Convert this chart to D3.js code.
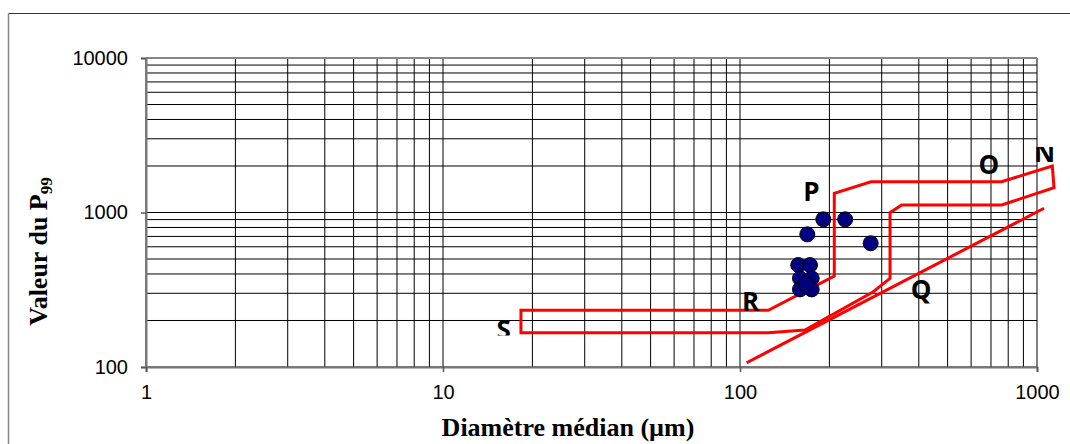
<!DOCTYPE html>
<html>
<head>
<meta charset="utf-8">
<script src="https://cdn.jsdelivr.net/npm/d3@7"></script>
<style>
  html, body { margin: 0; padding: 0; background: #fff; }
  svg { display: block; }
</style>
</head>
<body>
<svg id="chart" width="1070" height="444"></svg>
<script>
// Axis tick values (log scales)
const xTickValues = [1, 10, 100, 1000];
const yTickValues = [100, 1000, 10000];

// Outer envelope S-R-P-O-N-Q (median diameter in µm, P99 value)
const envelopeDiam = [18.3, 124.5, 207.7, 207.7, 276, 760, 1126, 1141, 760, 350, 320, 320, 281, 165.5, 124.5, 18.3];
const envelopeP99  = [233, 233, 388, 1331, 1582, 1582, 2000, 1447, 1118, 1118, 998, 375, 307, 173.5, 166.7, 166.7];

// Straight reference line
const lineDiam = [105.3, 1056];
const lineP99  = [106.6, 1065];

// Measured samples
const sampleDiam = [190.8, 226, 168.5, 275.4, 157.1, 172, 159.2, 174.3, 159.2, 174.3, 166.8];
const sampleP99  = [903, 903, 722, 632, 457, 457, 375, 375, 318, 318, 344];

// Zone letters and where they sit (diameter, P99 at baseline)
const zoneNames = ["S", "R", "P", "O", "N", "Q"];
const zoneDiam  = [16.0, 108.5, 174, 689, 1060, 406.8];
const zoneP99   = [151.8, 232.1, 1187, 1775, 2123, 275.5];

const svg = d3.select("#chart");

const x = d3.scaleLog().domain([1, 1000]).range([146, 1037]);
const y = d3.scaleLog().domain([100, 10000]).range([367, 58]);

// outer frame
svg.append("line").attr("x1", 8.5).attr("x2", 1070).attr("y1", 13.5).attr("y2", 13.5)
  .attr("stroke", "#333").attr("stroke-width", 1);
svg.append("line").attr("x1", 8.5).attr("x2", 8.5).attr("y1", 13.5).attr("y2", 444)
  .attr("stroke", "#888").attr("stroke-width", 1.5);

// grid: every 1..9 step of each decade
const grid = svg.append("g");
grid.selectAll("line.vx").data(x.ticks()).join("line")
  .attr("class", "vx")
  .attr("x1", d => x(d)).attr("x2", d => x(d))
  .attr("y1", y(10000)).attr("y2", y(100))
  .attr("stroke", "#000").attr("stroke-width", 1);
grid.selectAll("line.hy").data(y.ticks()).join("line")
  .attr("class", "hy")
  .attr("x1", x(1)).attr("x2", x(1000))
  .attr("y1", d => y(d)).attr("y2", d => y(d))
  .attr("stroke", "#000").attr("stroke-width", 1);

// top edge of the plot
svg.append("line").attr("x1", x(1)).attr("x2", x(1000)).attr("y1", y(10000)).attr("y2", y(10000))
  .attr("stroke", "#888").attr("stroke-width", 2);

// axes
const yAxis = d3.axisLeft(y).tickValues(yTickValues).tickSize(5).tickPadding(13)
  .tickFormat(d3.format("d"));
const xAxis = d3.axisBottom(x).tickValues(xTickValues).tickSize(5).tickPadding(13)
  .tickFormat(d3.format("d"));

const gy = svg.append("g").attr("transform", `translate(${x(1)},0)`).call(yAxis);
const gx = svg.append("g").attr("transform", `translate(0,${y(100)})`).call(xAxis);
[gx, gy].forEach(g => {
  g.select(".domain").attr("stroke", "#777").attr("stroke-width", 2);
  g.selectAll(".tick line").attr("stroke", "#555").attr("stroke-width", 1.5);
  g.selectAll(".tick text")
    .attr("fill", "#000")
    .style("font-family", "'Liberation Sans', Arial, sans-serif")
    .style("font-size", "20px");
});

// envelope polygon and reference line
const lineGen = d3.line().x(d => x(d[0])).y(d => y(d[1]));
const envelope = envelopeDiam.map((d, i) => [d, envelopeP99[i]]);
svg.append("path")
  .attr("d", lineGen(envelope) + "Z")
  .attr("fill", "none").attr("stroke", "#ff0000").attr("stroke-width", 3)
  .attr("stroke-linejoin", "miter");
svg.append("path")
  .attr("d", lineGen(lineDiam.map((d, i) => [d, lineP99[i]])))
  .attr("fill", "none").attr("stroke", "#ff0000").attr("stroke-width", 3);

// samples
svg.append("g").selectAll("circle")
  .data(sampleDiam.map((d, i) => [d, sampleP99[i]]))
  .join("circle")
  .attr("cx", d => x(d[0])).attr("cy", d => y(d[1]))
  .attr("r", 7.5)
  .attr("fill", "#000080").attr("stroke", "#000").attr("stroke-width", 1);

// zone letters (S and N sit in boxes that trim them)
const defs = svg.append("defs");
defs.append("clipPath").attr("id", "clipS")
  .append("rect").attr("x", 0).attr("y", 0).attr("width", 1070).attr("height", 335.5);
defs.append("clipPath").attr("id", "clipN")
  .append("rect").attr("x", 0).attr("y", 147).attr("width", 1070).attr("height", 300);

svg.append("g").selectAll("text")
  .data(zoneNames.map((n, i) => ({ n, d: zoneDiam[i], p: zoneP99[i] })))
  .join("text")
  .attr("x", d => x(d.d)).attr("y", d => y(d.p))
  .attr("text-anchor", "middle")
  .attr("clip-path", d => d.n === "S" ? "url(#clipS)" : d.n === "N" ? "url(#clipN)" : null)
  .style("font-family", "'Open Sans', 'Liberation Sans', sans-serif")
  .style("font-weight", "bold")
  .style("font-size", "26px")
  .attr("fill", "#000")
  .text(d => d.n);

// axis titles
svg.append("text")
  .attr("x", 568).attr("y", 436)
  .attr("text-anchor", "middle")
  .style("font-family", "'Liberation Serif', 'Times New Roman', serif")
  .style("font-weight", "bold")
  .style("font-size", "26px")
  .text("Diamètre médian (µm)");

const yt = svg.append("text")
  .attr("transform", "translate(46.7,251.5) rotate(-90)")
  .attr("text-anchor", "middle")
  .style("font-family", "'Liberation Serif', 'Times New Roman', serif")
  .style("font-weight", "bold")
  .style("font-size", "26px");
yt.append("tspan").text("Valeur du P");
yt.append("tspan").attr("dy", 5).style("font-size", "17px").text("99");
</script>
</body>
</html>
